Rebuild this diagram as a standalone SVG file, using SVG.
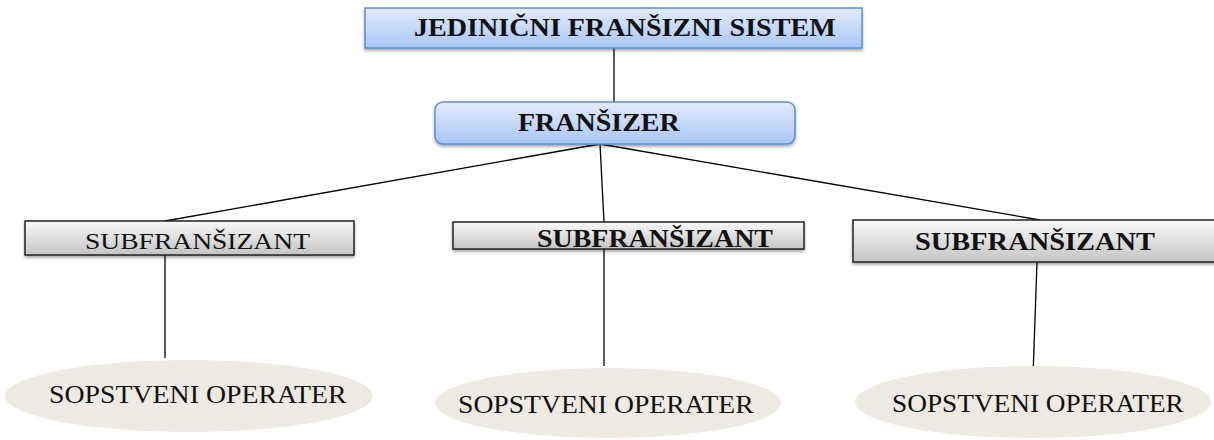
<svg xmlns="http://www.w3.org/2000/svg" width="1214" height="440" viewBox="0 0 1214 440">
<defs>
<linearGradient id="blue" x1="0" y1="0" x2="0" y2="1">
<stop offset="0" stop-color="#e3ecfc"/>
<stop offset="1" stop-color="#a8c6f6"/>
</linearGradient>
<linearGradient id="gray" x1="0" y1="0" x2="0" y2="1">
<stop offset="0" stop-color="#fafafa"/>
<stop offset="1" stop-color="#c4c4c4"/>
</linearGradient>
<filter id="sh" x="-5%" y="-20%" width="110%" height="150%">
<feDropShadow dx="0" dy="2" stdDeviation="1.5" flood-color="#000" flood-opacity="0.35"/>
</filter>
</defs>
<style>
.blue{fill:url(#blue);stroke:#5f8fd2;stroke-width:1.5;filter:url(#sh)}
.gray{fill:url(#gray);stroke:#222;stroke-width:1.5;filter:url(#sh)}
.ell{fill:#edebe1}
.t{font-family:"Liberation Serif","Times New Roman",serif;fill:#111;font-size:25px}
.b{font-weight:bold}
.r{font-size:24px}
.o{font-size:26px}
.c line{stroke:#000;stroke-width:1.3}
</style>
<rect width="1214" height="440" fill="#fff"/>
<g class="c" id="connectors">
<line x1="614" y1="48" x2="614" y2="102"/>
<line x1="600" y1="144" x2="165" y2="221"/>
<line x1="600" y1="144" x2="604" y2="222"/>
<line x1="600" y1="144" x2="1040" y2="220"/>
<line x1="165" y1="255" x2="165" y2="358"/>
<line x1="604" y1="249" x2="604" y2="366"/>
<line x1="1037" y1="262" x2="1033" y2="376"/>
</g>
<g id="n-sistem">
<rect class="blue" x="365" y="8" width="497" height="40"/>
<text class="t b" transform="translate(414,36) scale(1.125,1)">JEDINIČNI FRANŠIZNI SISTEM</text>
</g>
<g id="n-franšizer">
<rect class="blue" x="435" y="102" width="360" height="42" rx="8"/>
<text class="t b" transform="translate(518,131) scale(1.12,1)">FRANŠIZER</text>
</g>
<g id="n-sub1">
<rect class="gray" x="25" y="221" width="329" height="34"/>
<text class="t r" transform="translate(85,249) scale(1.148,1)">SUBFRANŠIZANT</text>
</g>
<g id="n-sub2">
<rect class="gray" x="453" y="222" width="351" height="27"/>
<text class="t b" transform="translate(537,247) scale(1.118,1)">SUBFRANŠIZANT</text>
</g>
<g id="n-sub3">
<rect class="gray" x="853" y="220" width="366" height="42"/>
<text class="t b" transform="translate(915,250) scale(1.137,1)">SUBFRANŠIZANT</text>
</g>
<g id="n-op1">
<ellipse class="ell" cx="189" cy="396" rx="184" ry="36"/>
<text class="t o" transform="translate(49,403) scale(1.071,1)">SOPSTVENI OPERATER</text>
</g>
<g id="n-op2">
<ellipse class="ell" cx="608" cy="403" rx="173" ry="35"/>
<text class="t o" transform="translate(458,413) scale(1.064,1)">SOPSTVENI OPERATER</text>
</g>
<g id="n-op3">
<ellipse class="ell" cx="1033" cy="402" rx="178" ry="36"/>
<text class="t o" transform="translate(892,412) scale(1.05,1)">SOPSTVENI OPERATER</text>
</g>
</svg>
